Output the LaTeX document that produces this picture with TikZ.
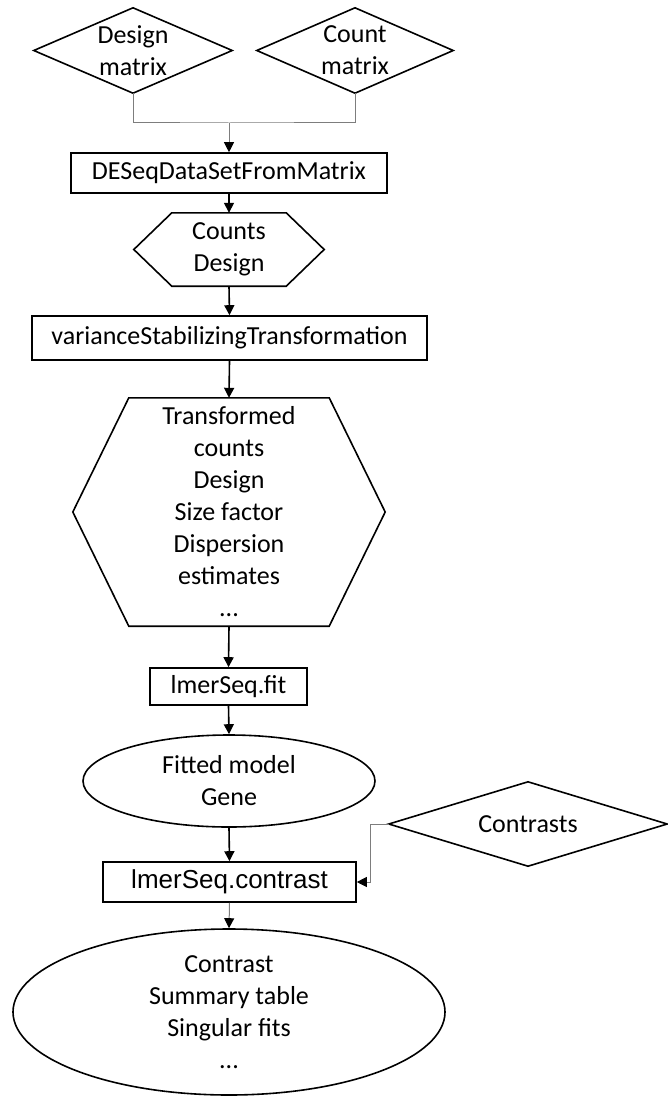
\documentclass[tikz,border=0pt]{standalone}
\usepackage{fontspec}
\setmainfont{Carlito}
\newfontfamily\arialfont{Liberation Sans}
\usetikzlibrary{arrows.meta}
\usetikzlibrary{shapes.geometric}
\definecolor{linkgray}{RGB}{125,125,125}

\tikzset{
  every node/.style={font=\fontsize{26}{32}\selectfont},
  box/.style={draw, line width=1.6pt, inner sep=0pt},
  plain/.style={inner sep=0pt, align=center},
  oval/.style={draw, ellipse, line width=1.6pt, inner sep=0pt, align=center},
  outline/.style={line width=1.6pt, line join=miter},
  flow/.style={line width=1.6pt, -{Triangle[length=10pt,width=10pt]}},
  feed/.style={linkgray, line width=1pt, -{Triangle[length=10pt,width=10pt,color=black]}}
}

\begin{document}
\begin{tikzpicture}[x=1pt, y=-1pt]
\useasboundingbox (0,0) rectangle (668,1097);

% inputs
\node [plain, minimum width=198pt, minimum height=85pt] (design) at (133,50.5) {Design\\matrix};
\node [plain, minimum width=196pt, minimum height=85pt] (count) at (355,50.5) {Count\\matrix};
\draw [outline] (design.north)--(design.east)--(design.south)--(design.west)--cycle;
\draw [outline] (count.north)--(count.east)--(count.south)--(count.west)--cycle;
\coordinate (join) at (229,123);
\draw [linkgray, line width=1pt] (design.south) |- (join) -| (count.south);

\node [box, minimum width=316pt, minimum height=40pt] (deseq) at (229,173) {DESeqDataSetFromMatrix};
\draw [feed] (join)--(deseq.north);

% data set
\node [plain, minimum width=114pt, minimum height=73pt] (dds) at (229,249.5) {Counts\\Design};
\draw [outline] (dds.north west)--(dds.north east)--([xshift=38pt]dds.east)
  --(dds.south east)--(dds.south west)--([xshift=-38pt]dds.west)--cycle;
\draw [flow] (deseq.south)--(dds.north);

\node [box, minimum width=395pt, minimum height=44pt] (vst) at (229.5,338) {varianceStabilizingTransformation};
\draw [flow] (dds.south)--(vst.north);

\node [plain, minimum width=200pt, minimum height=228pt] (vsd) at (229,512)
  {Transformed\\counts\\Design\\Size factor\\Dispersion\\estimates\\...};
\draw [outline] (vsd.north west)--(vsd.north east)--([xshift=56pt]vsd.east)
  --(vsd.south east)--(vsd.south west)--([xshift=-56pt]vsd.west)--cycle;
\draw [flow] (vst.south)--(vsd.north);

% model fit
\node [box, minimum width=157pt, minimum height=37pt] (fit) at (228.5,686.5) {lmerSeq.fit};
\draw [flow] (vsd.south)--(fit.north);

\node [oval, minimum width=292pt, minimum height=92pt] (model) at (229,781) {Fitted model\\Gene};
\draw [flow] (fit.south)--(model.north);

\node [box, minimum width=253pt, minimum height=40pt, font=\arialfont\fontsize{26}{32}\selectfont] (contrast) at (229.5,882) {lmerSeq.contrast};
\draw [flow] (model.south)--(contrast.north);

\node [plain, minimum width=278pt, minimum height=84pt] (contrasts) at (528,824) {Contrasts};
\draw [outline] (contrasts.north)--(contrasts.east)--(contrasts.south)--(contrasts.west)--cycle;
\draw [feed] (contrasts.west)--++(-18,0) |- (contrast.east);

\node [oval, minimum width=432pt, minimum height=166pt] (result) at (229,1012)
  {Contrast\\Summary table\\Singular fits\\...};
\draw [feed] (contrast.south)--(result.north);
\end{tikzpicture}
\end{document}
